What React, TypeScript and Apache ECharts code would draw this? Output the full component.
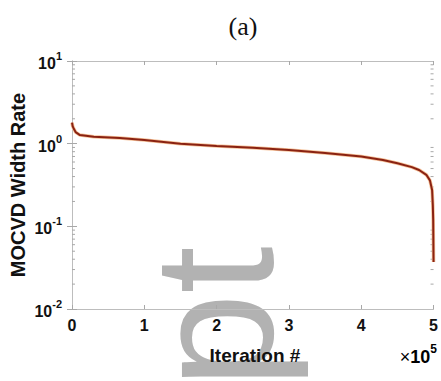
import React, { useEffect, useRef } from "react";
import * as echarts from "echarts";

const iterations = [0, 1000, 2000, 5000, 11000, 30000, 66000, 100000, 150000, 200000, 250000, 300000, 350000, 400000, 430000, 450000, 470000, 480000, 490000, 495000, 498000, 499000, 499500, 500000];
const widthRate = [1.8, 1.62, 1.55, 1.38, 1.27, 1.21, 1.17, 1.11, 1.0, 0.94, 0.89, 0.84, 0.77, 0.70, 0.635, 0.58, 0.52, 0.48, 0.42, 0.36, 0.275, 0.18, 0.12, 0.037];
const xTickLabels = ["0", "1", "2", "3", "4", "5"];
const yMinorTicks = [0.02, 0.03, 0.04, 0.05, 0.06, 0.07, 0.08, 0.09, 0.2, 0.3, 0.4, 0.5, 0.6, 0.7, 0.8, 0.9, 2, 3, 4, 5, 6, 7, 8, 9];

const SANS = "'Liberation Sans', Arial, Helvetica, sans-serif";
const SERIF = "'Liberation Serif', 'Times New Roman', serif";
const AXIS_COLOR = "#bdbdbd";
const TICK_COLOR = "#a8a8a8";

export default function App() {
  const ref = useRef<HTMLDivElement>(null);
  useEffect(() => {
    if (!ref.current) return;
    const chart = echarts.init(ref.current, null, { renderer: "svg" });
    const supRich = {
      b: { fontSize: 16, fontWeight: "bold", fontFamily: SANS, color: "#111", verticalAlign: "bottom" },
      s: { fontSize: 11, fontWeight: "bold", fontFamily: SANS, color: "#111", verticalAlign: "top", padding: [0, 0, 10, 0] },
    };
    const bigRich = {
      m: { fontSize: 18, fontFamily: SANS, color: "#555", verticalAlign: "bottom" },
      b: { fontSize: 18, fontWeight: "bold", fontFamily: SANS, color: "#111", verticalAlign: "bottom" },
      s: { fontSize: 12, fontWeight: "bold", fontFamily: SANS, color: "#111", verticalAlign: "top", padding: [0, 0, 11, 0] },
    };
    const lineData = iterations.map((x, i) => [x, widthRate[i]]);
    const option: any = {
      animation: false,
      backgroundColor: "#ffffff",
      grid: { left: 72, right: 3, top: 61, bottom: 72, show: false },
      xAxis: [
        {
          type: "value",
          min: 0,
          max: 500000,
          interval: 100000,
          axisLine: { show: true, lineStyle: { color: AXIS_COLOR, width: 1 } },
          axisTick: { show: true, inside: true, length: 4, lineStyle: { color: TICK_COLOR } },
          splitLine: { show: false },
          axisLabel: {
            margin: 8,
            fontSize: 16,
            fontWeight: "bold",
            fontFamily: SANS,
            color: "#111",
            formatter: (v: number) => xTickLabels[Math.round(v / 100000)] ?? "",
          },
        },
        {
          type: "value",
          position: "top",
          min: 0,
          max: 500000,
          interval: 100000,
          axisLine: { show: true, lineStyle: { color: AXIS_COLOR, width: 1 } },
          axisTick: { show: true, inside: true, length: 4, lineStyle: { color: TICK_COLOR } },
          splitLine: { show: false },
          axisLabel: { show: false },
        },
      ],
      yAxis: [
        {
          type: "log",
          logBase: 10,
          min: 0.01,
          max: 10,
          axisLine: { show: true, lineStyle: { color: AXIS_COLOR, width: 1 } },
          axisTick: { show: true, inside: true, length: 5, lineStyle: { color: TICK_COLOR } },
          splitLine: { show: false },
          axisLabel: {
            margin: 10,
            formatter: (v: number) => {
              const e = Math.round(Math.log10(v));
              return "{b|10}{s|" + e + "}";
            },
            rich: supRich,
          },
        },
        {
          type: "log",
          logBase: 10,
          min: 0.01,
          max: 10,
          position: "right",
          axisLine: { show: true, lineStyle: { color: AXIS_COLOR, width: 1 } },
          axisTick: { show: true, inside: true, length: 5, lineStyle: { color: TICK_COLOR } },
          splitLine: { show: false },
          axisLabel: { show: false },
        },
      ],
      series: [
        {
          type: "custom",
          xAxisIndex: 0,
          yAxisIndex: 0,
          silent: true,
          z: 1,
          data: yMinorTicks.map((v) => [0, v]),
          renderItem: (params: any, api: any) => {
            const v = api.value(1);
            const l = api.coord([0, v]);
            const r = api.coord([500000, v]);
            const st = { stroke: TICK_COLOR, lineWidth: 1 };
            return {
              type: "group",
              children: [
                { type: "line", shape: { x1: l[0], y1: l[1], x2: l[0] + 3, y2: l[1] }, style: st },
                { type: "line", shape: { x1: r[0], y1: r[1], x2: r[0] - 3, y2: r[1] }, style: st },
              ],
            };
          },
        },
        {
          type: "line",
          xAxisIndex: 0,
          yAxisIndex: 0,
          data: lineData,
          showSymbol: false,
          lineStyle: { color: "#f5c29a", width: 3.5 },
          z: 2,
          silent: true,
        },
        {
          type: "line",
          xAxisIndex: 0,
          yAxisIndex: 0,
          data: lineData,
          showSymbol: false,
          lineStyle: { color: "#8a2212", width: 2 },
          z: 3,
        },
      ],
      graphic: [
        {
          type: "text",
          z: -10,
          x: 214,
          y: 388,
          rotation: Math.PI / 2,
          silent: true,
          style: {
            text: "pt",
            fontSize: 170,
            fontFamily: SANS,
            fill: "#b2b2b2",
            align: "left",
            verticalAlign: "middle",
          },
        },
        {
          type: "text",
          x: 243,
          y: 26,
          style: {
            text: "(a)",
            fontSize: 26,
            fontFamily: SERIF,
            fill: "#111",
            align: "center",
            verticalAlign: "middle",
          },
        },
        {
          type: "text",
          x: 18,
          y: 185,
          rotation: Math.PI / 2,
          style: {
            text: "MOCVD Width Rate",
            fontSize: 20,
            fontWeight: "bold",
            fontFamily: SANS,
            fill: "#111",
            align: "center",
            verticalAlign: "middle",
          },
        },
        {
          type: "text",
          x: 255,
          y: 355,
          z: 10,
          style: {
            text: "Iteration #",
            fontSize: 19,
            fontWeight: "bold",
            fontFamily: SANS,
            fill: "#111",
            align: "center",
            verticalAlign: "middle",
          },
        },
        {
          type: "text",
          x: 437,
          y: 354,
          style: {
            text: "{m|×}{b|10}{s|5}",
            rich: bigRich,
            align: "right",
            verticalAlign: "middle",
          },
        },
      ],
    };
    chart.setOption(option);
    return () => chart.dispose();
  }, []);
  return <div ref={ref} style={{ width: 441, height: 381, position: "absolute", left: 0, top: 0 }} />;
}
